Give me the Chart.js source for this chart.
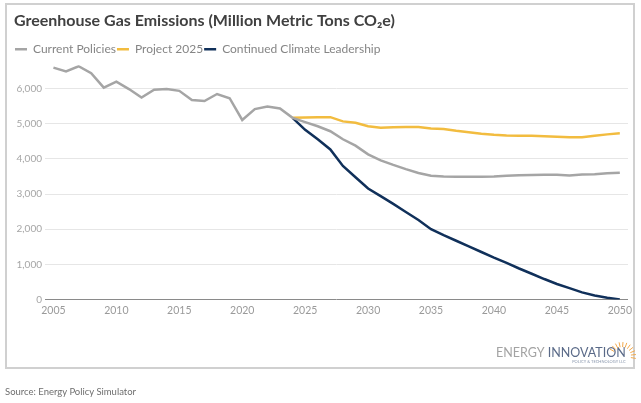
<!DOCTYPE html>
<html><head><meta charset="utf-8">
<script src="https://cdn.jsdelivr.net/npm/chart.js@4.4.1/dist/chart.umd.min.js"></script>
<style>
html,body{margin:0;padding:0;background:#fff;width:641px;height:403px;overflow:hidden;}
#frame{position:absolute;left:5px;top:3px;width:630px;height:366px;box-sizing:border-box;border:2px solid #d0d0d0;}
#wrap{position:absolute;left:0;top:0;width:641px;height:403px;}
#source{position:absolute;left:5px;top:386px;font:9.5px Lato, sans-serif;color:#6e6e6e;white-space:nowrap;}
</style></head><body>
<div id="frame"></div>
<div id="wrap"><canvas id="c" width="641" height="403"></canvas></div>
<div id="source">Source: Energy Policy Simulator</div>
<script>
const years = [2005,2006,2007,2008,2009,2010,2011,2012,2013,2014,2015,2016,2017,2018,2019,2020,2021,2022,2023,2024,2025,2026,2027,2028,2029,2030,2031,2032,2033,2034,2035,2036,2037,2038,2039,2040,2041,2042,2043,2044,2045,2046,2047,2048,2049,2050];
const currentPolicies = [6600,6490,6640,6440,6030,6200,5990,5750,5970,5990,5940,5680,5650,5850,5730,5110,5420,5490,5440,5170,5050,4930,4790,4560,4380,4130,3960,3830,3710,3600,3520,3500,3490,3490,3495,3500,3520,3535,3545,3550,3550,3530,3555,3565,3590,3610];
const project2025 = [null,null,null,null,null,null,null,null,null,null,null,null,null,null,null,null,null,null,null,5170,5180,5190,5190,5070,5030,4930,4890,4900,4910,4910,4870,4850,4800,4760,4720,4690,4670,4660,4660,4650,4630,4615,4620,4660,4700,4730];
const climateLeadership = [null,null,null,null,null,null,null,null,null,null,null,null,null,null,null,null,null,null,null,5170,4830,4560,4270,3800,3480,3160,2940,2720,2490,2260,2000,1830,1670,1510,1350,1190,1040,880,730,580,440,320,200,110,50,0];
const seriesNames = ['Current Policies','Project 2025','Continued Climate Leadership'];
const xTickYears = [2005,2010,2015,2020,2025,2030,2035,2040,2045,2050];
const yTickValues = [0,1000,2000,3000,4000,5000,6000];
const titleText = 'Greenhouse Gas Emissions (Million Metric Tons CO\u2082e)';

const FONT = 'Lato, "Open Sans", sans-serif';
const toPts = vals => years.map((y,i)=>({x:y, y:vals[i]}));

const logoPlugin = {
  id:'logo',
  afterDraw(chart){
    const ctx = chart.ctx;
    ctx.save();
    ctx.textBaseline = 'alphabetic';
    ctx.font = '12.5px ' + FONT;
    ctx.fillStyle = '#a3a3a3';
    ctx.textAlign = 'left';
    const x0 = 496, yb = 357;
    ctx.fillText('ENERGY', x0, yb);
    const w = ctx.measureText('ENERGY ').width;
    ctx.fillStyle = '#5a6a88';
    ctx.fillText('INNOVATION', x0 + w, yb);
    const w2 = ctx.measureText('INNOVATION').width;
    ctx.font = '4px ' + FONT;
    ctx.fillStyle = '#8a97ad';
    ctx.textAlign = 'right';
    ctx.fillText('POLICY & TECHNOLOGY LLC', x0 + w + w2, yb + 6);
    const cx = 622, cy = 356;
    ctx.strokeStyle = '#f3a94b';
    ctx.lineWidth = 1;
    for (let a = -150; a <= 10; a += 16) {
      const r = a*Math.PI/180;
      ctx.beginPath();
      ctx.moveTo(cx + Math.cos(r)*9, cy + Math.sin(r)*9);
      ctx.lineTo(cx + Math.cos(r)*(a%32===0?17:14), cy + Math.sin(r)*(a%32===0?17:14));
      ctx.stroke();
    }
    ctx.restore();
  }
};

new Chart(document.getElementById('c'), {
  type:'line',
  data:{
    datasets:[
      {label:seriesNames[0], data:toPts(currentPolicies), borderColor:'#a5a5a5', backgroundColor:'#a5a5a5', borderWidth:2.5, pointRadius:0, tension:0},
      {label:seriesNames[1], data:toPts(project2025), borderColor:'#f2bc3f', backgroundColor:'#f2bc3f', borderWidth:2.5, pointRadius:0, tension:0},
      {label:seriesNames[2], data:toPts(climateLeadership), borderColor:'#10305a', backgroundColor:'#10305a', borderWidth:2.5, pointRadius:0, tension:0}
    ]
  },
  options:{
    responsive:false, animation:false, devicePixelRatio:1,
    layout:{padding:{left:14, right:13, top:0, bottom:81}},
    plugins:{
      title:{display:true, text:titleText, align:'start', color:'#404040', font:{family:FONT, size:16, weight:'bold'}, padding:{top:11, bottom:12}},
      legend:{display:true, align:'start', labels:{usePointStyle:true, pointStyle:'line', pointStyleWidth:12, boxHeight:6, color:'#858585', font:{family:FONT, size:12}, padding:1}},
      tooltip:{enabled:false}
    },
    scales:{
      x:{type:'linear', min:2004.33, max:2050.65,
        afterBuildTicks:s=>{s.ticks = xTickYears.map(v=>({value:v}));},
        ticks:{color:'#9a9a9a', font:{family:FONT, size:10.5}, padding:5, maxRotation:0, autoSkip:false, callback:v=>String(v)},
        grid:{display:false, drawTicks:false}, border:{display:false}},
      y:{type:'linear', min:0, max:6670,
        afterBuildTicks:s=>{s.ticks = yTickValues.map(v=>({value:v}));},
        afterFit:s=>{s.width = 31;},
        ticks:{color:'#a6a6a6', font:{family:FONT, size:10}, padding:3, callback:v=>v.toLocaleString('en-US')},
        grid:{drawTicks:false, color:c=>c.tick && c.tick.value===0 ? '#8a8a8a' : '#e6e6e6', lineWidth:1},
        border:{display:false}}
    }
  },
  plugins:[logoPlugin]
});
</script>
</body></html>
